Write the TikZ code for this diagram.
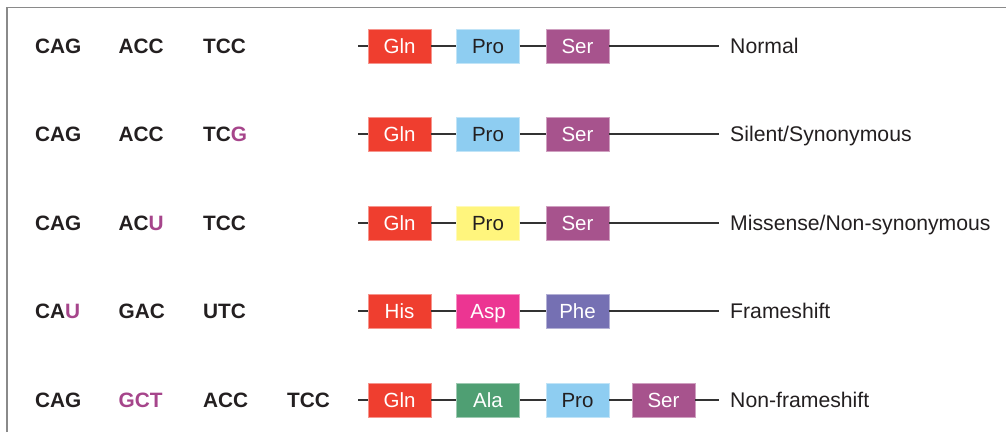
\documentclass[tikz,border=0pt]{standalone}
\usepackage{fontspec}
\setmainfont{Liberation Sans}
\definecolor{frame}{HTML}{8A8A8A}
\definecolor{ink}{HTML}{231F20}
\definecolor{wire}{HTML}{333333}
\definecolor{cred}{HTML}{EF3E2F}
\definecolor{cblue}{HTML}{8ECDF1}
\definecolor{cpurple}{HTML}{A7538D}
\definecolor{cyellow}{HTML}{FFF57D}
\definecolor{cpink}{HTML}{EC3592}
\definecolor{cviolet}{HTML}{7570B3}
\definecolor{cgreen}{HTML}{4F9F73}
\definecolor{hl}{HTML}{A6458B}
\begin{document}
\begin{tikzpicture}[x=1pt,y=-1pt,
  codon/.style={anchor=base west,inner sep=0pt,font=\fontsize{20.8}{24}\selectfont\bfseries,text=ink},
  aa/.style={draw=#1!55!white,line width=0.8pt,fill=#1,minimum width=63pt,minimum height=34pt,inner sep=0pt,
     text height=14.8pt,text depth=0pt,font=\fontsize{20.5}{24}\selectfont,text=white},
  darkaa/.style={aa=#1,text=ink},
  lbl/.style={anchor=base west,inner sep=0pt,font=\fontsize{21.2}{25}\selectfont,text=ink},
  wireline/.style={draw=wire,line width=1.6pt}]
\useasboundingbox (0,0) rectangle (1006,432);
\draw[frame,line width=1.5pt] (7,432) -- (7,7.5) -- (1006,7.5);
\newcommand{\hlc}[1]{\textcolor{hl}{#1}}
% row 1
\node[codon] (c11) at (35,53.5) {CAG};
\node[codon] (c12) at (118.5,53.5) {ACC};
\node[codon] (c13) at (203,53.5) {TCC};
\coordinate (s1) at (358,46);
\coordinate (e1) at (719,46);
\node[aa=cred] (a11) at (399.5,46) {Gln};
\node[darkaa=cblue] (a12) at (488,46) {Pro};
\node[aa=cpurple] (a13) at (577.5,46) {Ser};
\draw[wireline] (s1) -- (a11.west) (a11.east) -- (a12.west) (a12.east) -- (a13.west) (a13.east) -- (e1);
\node[lbl] (l1) at (730,53.5) {Normal};
% row 2
\node[codon] (c21) at (35,141.5) {CAG};
\node[codon] (c22) at (118.5,141.5) {ACC};
\node[codon] (c23) at (203,141.5) {TC\hlc{G}};
\coordinate (s2) at (358,134);
\coordinate (e2) at (719,134);
\node[aa=cred] (a21) at (399.5,134) {Gln};
\node[darkaa=cblue] (a22) at (488,134) {Pro};
\node[aa=cpurple] (a23) at (577.5,134) {Ser};
\draw[wireline] (s2) -- (a21.west) (a21.east) -- (a22.west) (a22.east) -- (a23.west) (a23.east) -- (e2);
\node[lbl] (l2) at (730,141.5) {Silent/Synonymous};
% row 3
\node[codon] (c31) at (35,230.5) {CAG};
\node[codon] (c32) at (118.5,230.5) {AC\hlc{U}};
\node[codon] (c33) at (203,230.5) {TCC};
\coordinate (s3) at (358,223);
\coordinate (e3) at (719,223);
\node[aa=cred] (a31) at (399.5,223) {Gln};
\node[darkaa=cyellow] (a32) at (488,223) {Pro};
\node[aa=cpurple] (a33) at (577.5,223) {Ser};
\draw[wireline] (s3) -- (a31.west) (a31.east) -- (a32.west) (a32.east) -- (a33.west) (a33.east) -- (e3);
\node[lbl] (l3) at (730,230.5) {Missense/Non-synonymous};
% row 4
\node[codon] (c41) at (35,318.5) {CA\hlc{U}};
\node[codon] (c42) at (118.5,318.5) {GAC};
\node[codon] (c43) at (203,318.5) {UTC};
\coordinate (s4) at (358,311);
\coordinate (e4) at (719,311);
\node[aa=cred] (a41) at (399.5,311) {His};
\node[aa=cpink] (a42) at (488,311) {Asp};
\node[aa=cviolet] (a43) at (577.5,311) {Phe};
\draw[wireline] (s4) -- (a41.west) (a41.east) -- (a42.west) (a42.east) -- (a43.west) (a43.east) -- (e4);
\node[lbl] (l4) at (730,318.5) {Frameshift};
% row 5
\node[codon] (c51) at (35,407.5) {CAG};
\node[codon,text=hl] (c52) at (118.5,407.5) {GCT};
\node[codon] (c53) at (203,407.5) {ACC};
\node[codon] (c54) at (287,407.5) {TCC};
\coordinate (s5) at (358,400);
\coordinate (e5) at (719,400);
\node[aa=cred] (a51) at (399.5,400) {Gln};
\node[aa=cgreen] (a52) at (488,400) {Ala};
\node[darkaa=cblue] (a53) at (577.5,400) {Pro};
\node[aa=cpurple] (a54) at (663.5,400) {Ser};
\draw[wireline] (s5) -- (a51.west) (a51.east) -- (a52.west) (a52.east) -- (a53.west) (a53.east) -- (a54.west) (a54.east) -- (e5);
\node[lbl] (l5) at (730,407.5) {Non-frameshift};
\end{tikzpicture}
\end{document}
